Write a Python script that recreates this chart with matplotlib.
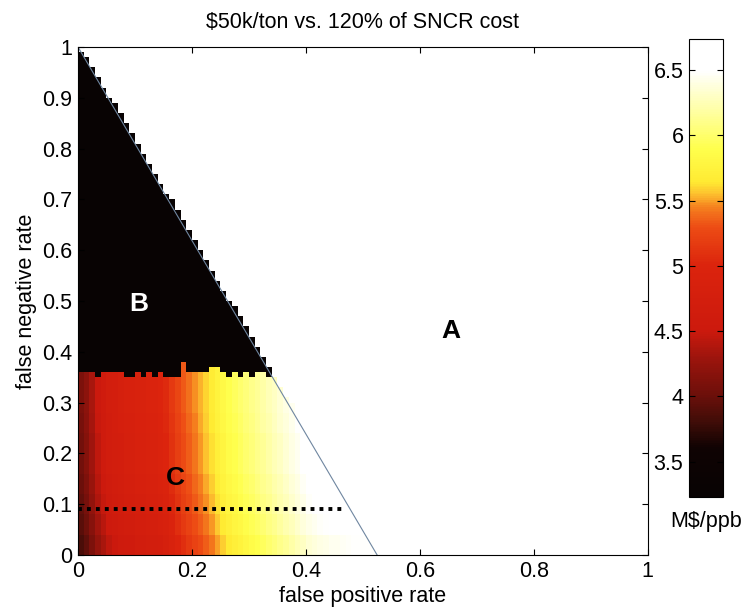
import numpy as np
import matplotlib
matplotlib.use("Agg")
import matplotlib.pyplot as plt
from matplotlib.colors import LinearSegmentedColormap

plt.rcParams["font.family"] = ["Liberation Sans", "DejaVu Sans"]

# cost (M$/ppb) per false-positive-rate column, 0.01 wide, region C
col_cost = [4.05, 4.15, 4.3, 4.45, 4.55, 4.65, 4.7, 4.75, 4.8, 4.8,
            4.85, 4.85, 4.9, 4.9, 4.95, 5.0, 5.1, 5.2, 5.28, 5.35,
            5.42, 5.48, 5.55, 5.62, 5.7, 5.78, 5.85, 5.9, 5.95, 6.0,
            6.05, 6.1, 6.15, 6.2, 6.25, 6.3, 6.35, 6.4, 6.45, 6.5,
            6.55, 6.58, 6.6, 6.62, 6.64, 6.65, 6.66, 6.67, 6.68, 6.68,
            6.68, 6.68, 6.68]
# shift per block of four 0.01 rows, bottom to top
row_shift = [-0.2, -0.13, -0.08, -0.04, 0.0, 0.0, 0.03, 0.05, 0.05]
c_top = 0.36           # upper edge of region C
# black notches in the top row of C, and C cells poking into B (column indices)
notch_cols = [3, 8, 9, 11, 13, 15, 16, 17, 26, 28, 30, 33]
poke_cols = [18, 23, 24]

diag_x = [0.0, 0.525]
diag_y = [1.0, 0.0]
dot_x = [0.0, 0.47]
dot_y = [0.09, 0.09]

vmin, vmax = 3.23, 6.74
cmap_stops = [(3.23, (0.03, 0.01, 0.01)), (3.6, (0.06, 0.01, 0.01)),
              (3.8, (0.25, 0.05, 0.03)), (4.0, (0.42, 0.06, 0.04)),
              (4.3, (0.62, 0.08, 0.05)), (4.5, (0.8, 0.1, 0.05)),
              (5.0, (0.86, 0.14, 0.05)), (5.3, (0.93, 0.3, 0.08)),
              (5.45, (0.96, 0.5, 0.12)), (5.55, (0.99, 0.75, 0.18)),
              (5.65, (1.0, 0.92, 0.2)), (5.9, (1.0, 1.0, 0.3)),
              (6.2, (1.0, 1.0, 0.65)), (6.5, (1.0, 1.0, 1.0)),
              (6.74, (1.0, 1.0, 1.0))]
cmap = LinearSegmentedColormap.from_list(
    "scan_hot", [((v - vmin) / (vmax - vmin), c) for v, c in cmap_stops])
cmap.set_bad("white")

n = 100
edges = np.linspace(0, 1, n + 1)
xc = (edges[:-1] + edges[1:]) / 2
line_at = lambda y: diag_x[1] * (1 - y)

Z = np.full((n, n), np.nan)
n_c = int(round(c_top * n))
shift = np.repeat(row_shift, 4)[:n_c]
for j in range(n_c):
    for i, v in enumerate(col_cost):
        if edges[i] < line_at(xc[j]):
            Z[j, i] = v + shift[j]
# region B: black staircase along the diagonal
for j in range(n_c, n - 1):
    for i in range(n):
        if edges[i] < line_at(xc[j]):
            Z[j, i] = vmin
for i in notch_cols:
    Z[n_c - 1, i] = vmin
for i in poke_cols:
    Z[n_c, i] = col_cost[i] + row_shift[-1]
Z[n_c + 1, poke_cols[0]] = col_cost[poke_cols[0]] + row_shift[-1]

fs = 15.5
fig = plt.figure(figsize=(7.53, 6.15), dpi=100)
ax = fig.add_axes([0.1036, 0.0976, 0.7566, 0.826])
mesh = ax.pcolormesh(edges, edges, np.ma.masked_invalid(Z), cmap=cmap,
                     vmin=vmin, vmax=vmax, shading="flat")
ax.plot(diag_x, diag_y, color="#6f86a0", lw=0.8)
ax.plot(dot_x, dot_y, color="black", lw=2.8, ls=(0, (1, 1.3)),
        dash_capstyle="butt")
ax.text(0.106, 0.494, "B", color="white", fontsize=19, fontweight="bold",
        ha="center", va="center")
ax.text(0.655, 0.44, "A", color="black", fontsize=19, fontweight="bold",
        ha="center", va="center")
ax.text(0.171, 0.151, "C", color="black", fontsize=19, fontweight="bold",
        ha="center", va="center")

ax.set_xlim(0, 1)
ax.set_ylim(0, 1)
ax.set_xticks(np.arange(0, 1.01, 0.2))
ax.set_xticklabels(["0", "0.2", "0.4", "0.6", "0.8", "1"])
ax.set_yticks(np.arange(0, 1.01, 0.1))
ax.set_yticklabels(["0", "0.1", "0.2", "0.3", "0.4", "0.5", "0.6", "0.7",
                    "0.8", "0.9", "1"])
ax.tick_params(direction="in", top=True, right=True, labelsize=fs,
               length=4, pad=4)
ax.set_xlabel("false positive rate", fontsize=fs, labelpad=3)
ax.set_ylabel("false negative rate", fontsize=fs, labelpad=4)
ax.set_title("$50k/ton vs. 120% of SNCR cost", fontsize=fs, pad=14)

cax = fig.add_axes([0.915, 0.192, 0.045, 0.745])
cb = fig.colorbar(mesh, cax=cax)
cb.set_ticks([3.5, 4, 4.5, 5, 5.5, 6, 6.5])
cb.set_ticklabels(["3.5", "4", "4.5", "5", "5.5", "6", "6.5"])
cax.yaxis.set_ticks_position("both")
cax.tick_params(labelleft=True, labelright=False, direction="in",
                labelsize=fs, length=4, pad=4)
cax.text(0.5, -0.03, "M$/ppb", transform=cax.transAxes, ha="center",
         va="top", fontsize=fs)

fig.savefig("out.png", dpi=100)
